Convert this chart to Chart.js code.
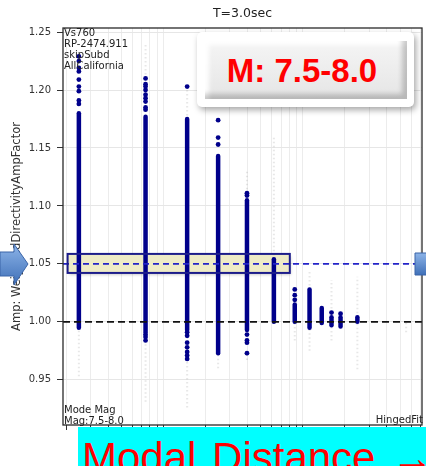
<!DOCTYPE html>
<html>
<head>
<meta charset="utf-8">
<script src="https://cdn.jsdelivr.net/npm/chart.js@4.4.1/dist/chart.umd.min.js"></script>
<style>
  html, body { margin: 0; padding: 0; background: #fff; }
  body { width: 426px; height: 466px; overflow: hidden; position: relative; }
  #chart { position: absolute; left: 0; top: 0; }
  .mbox { position: absolute; left: 197px; top: 32px; width: 217px; height: 75px; background: #fff;
          border-radius: 5px; box-shadow: 2px 3px 6px rgba(0,0,0,0.35); }
  .mbtn { position: absolute; left: 8px; top: 9px; width: 202px; height: 58px; box-sizing: border-box;
          background: linear-gradient(#f5f5f5, #e5e5e5);
          box-shadow: inset -5px -5px 5px rgba(0,0,0,0.2), inset 4px 4px 4px rgba(255,255,255,0.95);
          font: bold 33px "Liberation Sans", Arial, sans-serif; color: #ff0000;
          line-height: 58px; padding-top: 1px; padding-right: 8px; text-align: center; white-space: nowrap; }
  .arrow { position: absolute; }
  .cyan { position: absolute; left: 78px; top: 427px; width: 348px; height: 39px; background: #00ffff; overflow: visible; }
  .cyan span { position: absolute; left: 4px; top: 10px; font: 42px "Liberation Sans", Arial, sans-serif;
               color: #ff0000; line-height: 42px; white-space: nowrap; word-spacing: 4px; }
</style>
</head>
<body>
<canvas id="chart" width="426" height="466"></canvas>

<div class="mbox"><div class="mbtn">M: 7.5-8.0</div></div>

<svg class="arrow" style="left:0; top:240px" width="32" height="50">
  <defs>
    <linearGradient id="ga" x1="0" y1="0" x2="0" y2="1">
      <stop offset="0" stop-color="#8db4e8"/>
      <stop offset="1" stop-color="#3f70b8"/>
    </linearGradient>
  </defs>
  <polygon points="0,12 14,12 14,4 28,24 14,45 14,36 0,36" fill="url(#ga)" stroke="#3a64a8" stroke-width="1"/>
</svg>
<svg class="arrow" style="left:414px; top:250px" width="14" height="30">
  <defs>
    <linearGradient id="gb" x1="0" y1="0" x2="0" y2="1">
      <stop offset="0" stop-color="#8db4e8"/>
      <stop offset="1" stop-color="#3f70b8"/>
    </linearGradient>
  </defs>
  <polygon points="1,3 20,3 20,25 1,25" fill="url(#gb)" stroke="#3a64a8" stroke-width="1"/>
</svg>

<div class="cyan"><span>Modal Distance &#8594;</span></div>

<script>
// ---- datos ----
const chartTitle = 'T=3.0sec';
const yTitle = 'Amp: WeightedDirectivityAmpFactor';
const topNotes = ['Vs760', 'RP-2474.911', 'skipSubd', 'AllCalifornia'];
const bottomNotes = ['Mode Mag', 'Mag:7.5-8.0'];
const fitNote = 'HingedFit';

// columnas densas (distancia, amp minima, amp maxima)
const colDist = [2.47, 7.44, 14.8, 24.7, 39.8, 62.1, 87.7, 112, 137, 161, 187, 247];
const colLo   = [0.995, 0.991, 0.993, 0.973, 0.993, 1.000, 1.000, 0.995, 0.999, 0.997, 0.996, 1.000];
const colHi   = [1.180, 1.177, 1.175, 1.143, 1.105, 1.054, 1.015, 1.028, 1.012, 1.004, 1.004, 1.004];

// puntos sueltos
const dotDist = [2.47, 2.47, 2.47, 2.47, 2.47, 2.47, 2.47, 2.47, 2.47,
                 7.44, 7.44, 7.44, 7.44, 7.44, 7.44, 7.44, 7.44, 7.44, 7.44, 7.44, 7.44,
                 14.8, 14.8, 14.8, 14.8, 14.8, 14.8, 14.8, 14.8,
                 24.7, 24.7, 24.7,
                 39.8, 39.8, 39.8, 39.8, 39.8, 39.8,
                 87.7, 87.7, 87.7, 161, 187];
const dotAmp  = [1.229, 1.225, 1.219, 1.216, 1.209, 1.203, 1.199, 1.191, 1.188,
                 1.210, 1.205, 1.203, 1.200, 1.196, 1.193, 1.190, 1.185, 1.183, 0.989, 0.987, 0.984,
                 1.203, 0.991, 0.988, 0.982, 0.978, 0.974, 0.971, 0.968,
                 1.174, 1.159, 1.153,
                 1.111, 1.109, 0.989, 0.984, 0.982, 0.973,
                 1.028, 1.023, 1.019, 1.008, 1.007];

// rangos grises tenues
const grayDist = [2.47, 7.44, 7.44, 14.8, 14.8, 24.7, 39.8, 39.8, 62.1, 87.7, 112, 112, 161, 247, 553];
const grayLo   = [0.953, 0.931, 1.210, 0.926, 1.178, 0.960, 1.111, 0.967, 1.054, 0.984, 0.975, 1.028, 0.984, 0.959, 0.991];
const grayHi   = [0.995, 0.984, 1.239, 0.968, 1.203, 0.973, 1.131, 0.973, 1.161, 1.000, 0.995, 1.045, 1.036, 1.039, 1.000];

// lineas de referencia
const refLevels = [1.00, 1.05];

// ejes
const yTicks = [0.95, 1.00, 1.05, 1.10, 1.15, 1.20, 1.25];
const xDecades = [1, 10, 100];
const xMantissas = [1, 2, 3, 4, 5, 6, 7, 8, 9];
const xMin = 1.9, xMax = 719, yMin = 0.911, yMax = 1.2535;

// recuadro amarillo (en unidades de datos)
const boxDist = [2.05, 80.8];
const boxAmp = [1.0422, 1.0586];

const navy = '#00008b';
const xTicks = [];
xDecades.forEach(d => xMantissas.forEach(m => {
  const v = d * m;
  if (v >= xMin && v <= xMax) xTicks.push(v);
}));

Chart.defaults.font.family = "'DejaVu Sans', sans-serif";

const datasets = [];
refLevels.forEach((lvl, i) => {
  datasets.push({
    data: [{ x: xMin, y: lvl }, { x: xMax, y: lvl }],
    showLine: true, pointRadius: 0,
    borderColor: i === 0 ? '#111111' : '#2323c8',
    borderDash: i === 0 ? [7, 4] : [6, 4],
    borderWidth: 1.6,
    order: 1
  });
});
datasets.push({
  data: dotDist.map((d, i) => ({ x: d, y: dotAmp[i] })),
  showLine: false, pointRadius: 2.4, backgroundColor: navy, borderWidth: 0,
  order: 2
});
colDist.forEach((d, i) => {
  datasets.push({
    data: [{ x: d, y: colLo[i] }, { x: d, y: colHi[i] }],
    showLine: true, pointRadius: 0, borderColor: navy, borderWidth: 4.5, borderCapStyle: 'round',
    order: 3
  });
});
grayDist.forEach((d, i) => {
  datasets.push({
    data: [{ x: d, y: grayLo[i] }, { x: d, y: grayHi[i] }],
    showLine: true, pointRadius: 0, borderColor: 'rgba(175,175,175,0.3)', borderWidth: 2,
    borderDash: [1.5, 2.5],
    order: 4
  });
});

const extras = {
  id: 'extras',
  beforeDatasetsDraw(chart) {
    const { ctx, scales: { x, y } } = chart;
    const x0 = x.getPixelForValue(boxDist[0]), x1 = x.getPixelForValue(boxDist[1]);
    const y0 = y.getPixelForValue(boxAmp[1]), y1 = y.getPixelForValue(boxAmp[0]);
    ctx.save();
    ctx.shadowColor = 'rgba(0,0,0,0.25)';
    ctx.shadowOffsetX = 1; ctx.shadowOffsetY = 2; ctx.shadowBlur = 3;
    ctx.fillStyle = '#eeebc6';
    ctx.fillRect(x0, y0, x1 - x0, y1 - y0);
    ctx.restore();
  },
  afterDatasetsDraw(chart) {
    const { ctx, scales: { x, y } } = chart;
    const x0 = x.getPixelForValue(boxDist[0]), x1 = x.getPixelForValue(boxDist[1]);
    const y0 = y.getPixelForValue(boxAmp[1]), y1 = y.getPixelForValue(boxAmp[0]);
    ctx.save();
    ctx.strokeStyle = '#1c1c8a';
    ctx.lineWidth = 2;
    ctx.strokeRect(x0, y0, x1 - x0, y1 - y0);
    ctx.restore();
  },
  afterDraw(chart) {
    const { ctx, chartArea: a } = chart;
    ctx.save();
    // marco
    ctx.strokeStyle = '#2a2a2a';
    ctx.lineWidth = 1.3;
    ctx.strokeRect(a.left, a.top, a.right - a.left, a.bottom - a.top);
    // titulo
    ctx.fillStyle = '#222';
    ctx.font = "12.5px 'DejaVu Sans'";
    ctx.textAlign = 'center';
    ctx.textBaseline = 'middle';
    ctx.fillText(chartTitle, (a.left + a.right) / 2, 14);
    // notas
    ctx.font = "10px 'DejaVu Sans'";
    ctx.textBaseline = 'alphabetic';
    ctx.textAlign = 'left';
    topNotes.forEach((t, i) => ctx.fillText(t, a.left + 1, a.top + 8 + i * 11));
    bottomNotes.forEach((t, i) => ctx.fillText(t, a.left + 1, a.bottom - 12 + i * 11));
    ctx.textAlign = 'right';
    ctx.fillText(fitNote, a.right + 1, a.bottom - 2);
    ctx.restore();
  }
};

new Chart(document.getElementById('chart'), {
  type: 'scatter',
  data: { datasets },
  options: {
    responsive: false,
    animation: false,
    devicePixelRatio: 1,
    layout: { padding: { left: 0, right: 2, top: 28, bottom: 0 } },
    plugins: { legend: { display: false }, tooltip: { enabled: false }, title: { display: false } },
    scales: {
      x: {
        type: 'logarithmic',
        min: xMin, max: xMax, bounds: 'data',
        border: { display: false },
        grid: { color: '#ececec', tickColor: '#333', tickLength: 5, lineWidth: 1 },
        ticks: { display: false, autoSkip: false },
        afterBuildTicks: s => { s.ticks = xTicks.map(v => ({ value: v })); },
        afterFit: s => { s.height = 41; }
      },
      y: {
        min: yMin, max: yMax, bounds: 'data',
        border: { display: false },
        grid: { color: '#e6e6e6', tickColor: '#333', tickLength: 6 },
        ticks: {
          color: '#333', font: { size: 10 }, padding: 6,
          callback: v => Number(v).toFixed(2)
        },
        title: {
          display: true, text: yTitle, color: '#333',
          font: { size: 11.5 }, padding: { top: 10, bottom: 0 }
        },
        afterBuildTicks: s => { s.ticks = yTicks.map(v => ({ value: v })); },
        afterFit: s => { s.width = 63; }
      }
    }
  },
  plugins: [extras]
});
</script>
</body>
</html>
